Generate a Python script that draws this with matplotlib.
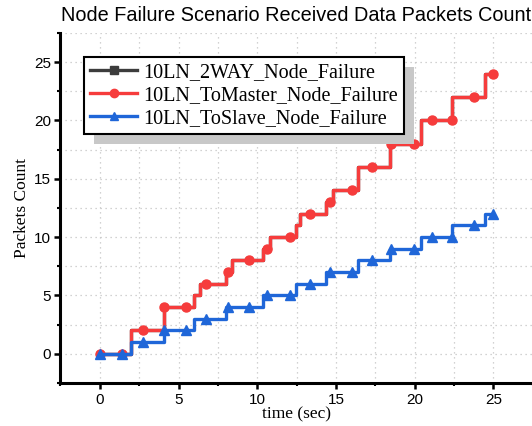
import numpy as np
import matplotlib
matplotlib.use("Agg")
import matplotlib.pyplot as plt
from matplotlib.patches import Rectangle
from matplotlib.ticker import MultipleLocator

# step change times (sec) and the packet count reached at each one
master_t = [0, 1.97, 4.07, 6.0, 6.36, 7.99, 8.37, 10.38, 10.8, 12.44, 12.75,
            14.4, 14.83, 16.38, 18.43, 20.4, 22.39, 24.47, 25.0]
master_n = [0, 2, 4, 5, 6, 7, 8, 9, 10, 11, 12, 13, 14, 16, 18, 20, 22, 24, 24]

slave_t = [0, 1.97, 4.07, 6.0, 7.99, 10.38, 12.44, 14.4, 16.38, 18.43, 20.4,
           22.39, 24.47, 25.0]
slave_n = [0, 1, 2, 3, 4, 5, 6, 7, 8, 9, 10, 11, 12, 12]

# sampled points shown with markers
mark_t = [0, 1.44, 2.75, 4.09, 5.5, 6.72, 8.16, 9.49, 10.64, 12.08, 13.35,
          14.6, 16.04, 17.27, 18.47, 19.98, 21.12, 22.39, 23.8, 25.0]
mark_master = [0, 0, 2, 4, 4, 6, 7, 8, 9, 10, 12, 13, 14, 16, 18, 18, 20, 20, 22, 24]
mark_slave = [0, 0, 1, 2, 2, 3, 4, 4, 5, 5, 6, 7, 7, 8, 9, 9, 10, 10, 11, 12]

labels = ["10LN_2WAY_Node_Failure", "10LN_ToMaster_Node_Failure",
          "10LN_ToSlave_Node_Failure"]
colors = ["#3c3c3c", "#f63c3c", "#1f66d8"]

fig = plt.figure(figsize=(5.32, 4.26), dpi=100)
ax = fig.add_axes([0.1137, 0.101, 0.8875, 0.8216])

lw = 2.4
# 2WAY run follows the ToMaster curve and sits hidden underneath it
series = [
    (master_t, master_n, mark_master, "s", 4, colors[0], labels[0]),
    (master_t, master_n, mark_master, "o", 6.5, colors[1], labels[1]),
    (slave_t, slave_n, mark_slave, "^", 6.5, colors[2], labels[2]),
]
handles = []
for t, n, mk, marker, ms, c, lab in series:
    ax.step(t, n, where="post", color=c, lw=lw, zorder=3)
    ax.plot(mark_t, mk, ls="none", marker=marker, ms=ms, color=c, zorder=3)
    h, = ax.plot([], [], color=c, lw=lw, marker=marker, ms=6, label=lab)
    handles.append(h)

ax.set_xlim(-2.5, 27.5)
ax.set_ylim(-2.5, 27.5)
ax.xaxis.set_major_locator(MultipleLocator(5))
ax.xaxis.set_minor_locator(MultipleLocator(2.5))
ax.yaxis.set_major_locator(MultipleLocator(5))
ax.yaxis.set_minor_locator(MultipleLocator(2.5))
ax.grid(True, which="both", color="#c4c4c4", ls=(0, (1, 3)), lw=0.9, zorder=0)

for s in ["top", "right"]:
    ax.spines[s].set_visible(False)
for s in ["left", "bottom"]:
    ax.spines[s].set_linewidth(2.2)
ax.tick_params(which="major", length=4, width=1.8, labelsize=11, pad=3,
               labelfontfamily="Liberation Sans")
ax.tick_params(which="minor", length=2.5, width=1.5)

serif = "Liberation Serif"
ax.set_xlabel("time (sec)", family=serif, fontsize=12.5, labelpad=0)
ax.set_ylabel("Packets Count", family=serif, fontsize=12.5, labelpad=3)
fig.text(0.557, 0.95, "Node Failure Scenario Received Data Packets Count",
         family="Liberation Sans", fontsize=14.3, ha="center", va="baseline")

leg = ax.legend(handles=handles, loc="upper left", bbox_to_anchor=(0.05, 0.931),
                prop={"family": serif, "size": 14.5}, frameon=True, fancybox=False,
                framealpha=1, edgecolor="black", handlelength=2.35,
                handletextpad=0.3, labelspacing=0.18, borderpad=0.3,
                borderaxespad=0)
leg.get_frame().set_linewidth(1.5)
leg.set_zorder(6)

# offset grey shadow behind the legend box
fig.canvas.draw()
bb = leg.get_window_extent().transformed(ax.transAxes.inverted())
inv = ax.transAxes.inverted()
dx, dy = inv.transform((10, 10)) - inv.transform((0, 0))
ax.add_patch(Rectangle((bb.x0 + dx, bb.y0 - dy), bb.width, bb.height,
                       transform=ax.transAxes, facecolor="#c8c8c8",
                       edgecolor="none", zorder=5.5, clip_on=False))

fig.savefig("out.png", dpi=100)
